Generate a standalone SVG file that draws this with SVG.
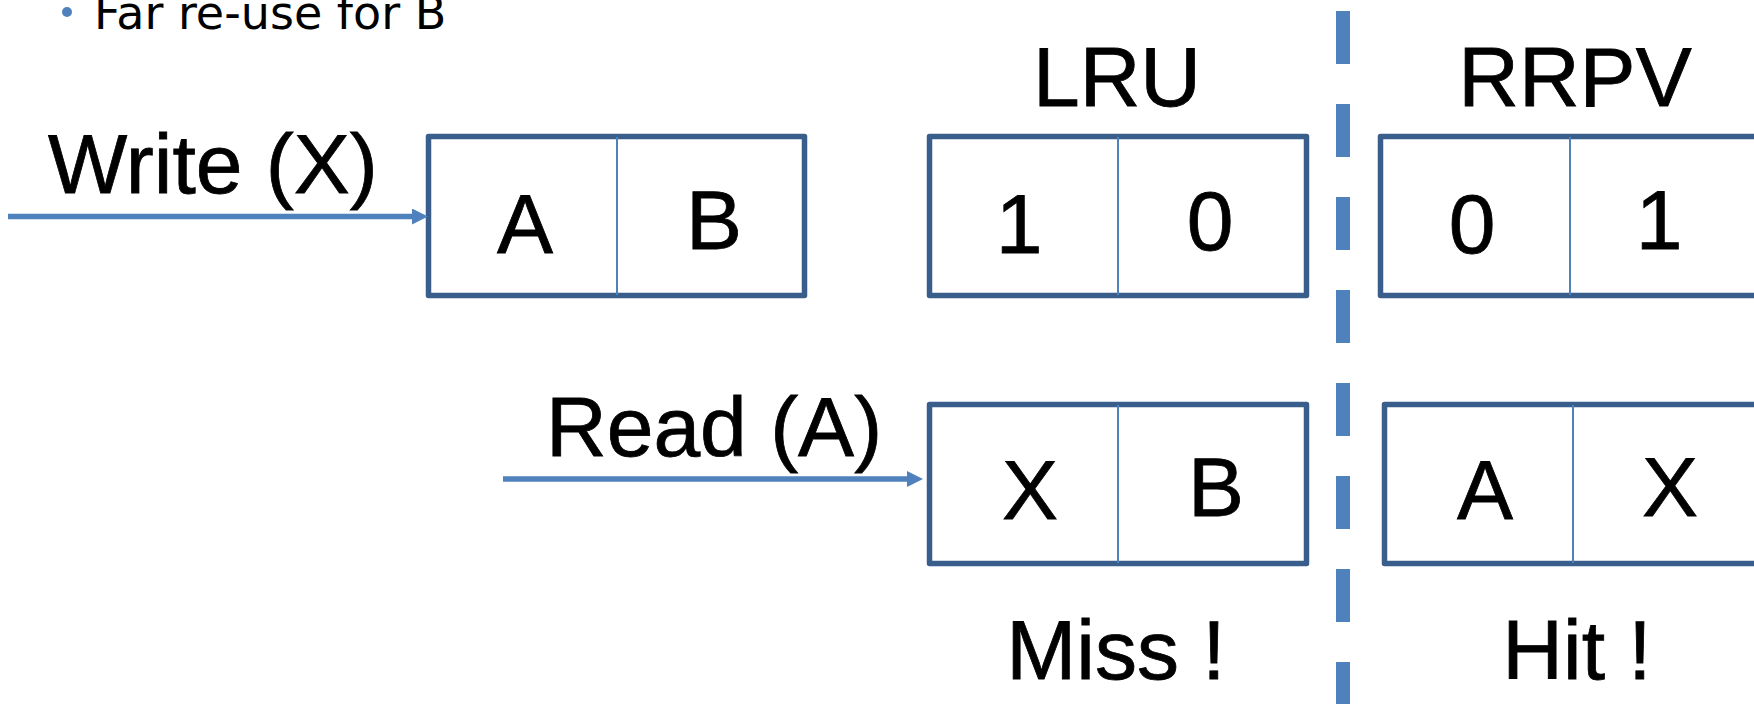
<svg xmlns="http://www.w3.org/2000/svg" width="1754" height="704" viewBox="0 0 1754 704">
  <style>
    .bg { fill: #ffffff; }
    .cell { fill: #ffffff; stroke: #3A5E8B; stroke-width: 5.5; stroke-linejoin: round; }
    .split { stroke: #4F81BD; stroke-width: 2; }
    .big { font-family: "Liberation Sans", Arial, sans-serif; font-size: 84px; fill: #000000; stroke: #000000; stroke-width: 0.8; text-anchor: middle; }
    .lbl { font-family: "Liberation Sans", Arial, sans-serif; font-size: 84px; fill: #000000; stroke: #000000; stroke-width: 0.8; }
    .bullet { font-family: "DejaVu Sans", sans-serif; font-size: 46px; fill: #000000; }
    .flow { stroke: #4F81BD; stroke-width: 5.5; fill: none; }
    .sep { stroke: #4F81BD; stroke-width: 14; stroke-dasharray: 53 40; }
  </style>
  <defs>
    <marker id="head" markerUnits="userSpaceOnUse" viewBox="0 0 16 16" refX="1" refY="8" markerWidth="16" markerHeight="16" orient="auto">
      <path d="M0,0 L16,8 L0,16 Z" fill="#4F81BD"/>
    </marker>
  </defs>

  <rect class="bg" x="0" y="0" width="1754" height="704"/>

  <!-- bullet line at the top -->
  <g id="note">
    <circle cx="67" cy="12" r="5" fill="#4F81BD"/>
    <text class="bullet" x="94" y="29">Far re-use for B</text>
  </g>

  <!-- column titles -->
  <g id="title-lru"><text class="big" x="1117" y="106">LRU</text></g>
  <g id="title-rrpv"><text class="big" x="1575" y="106">RRPV</text></g>

  <!-- operation labels -->
  <g id="op-write"><text class="lbl" x="48" y="193">Write (X)</text></g>
  <g id="op-read"><text class="lbl" x="546" y="456">Read (A)</text></g>

  <!-- cache set before the read -->
  <g id="set-initial">
    <rect class="cell" x="428.5" y="136.5" width="376" height="159"/>
    <line class="split" x1="617" y1="137" x2="617" y2="295"/>
    <text class="big" x="525" y="253">A</text>
    <text class="big" x="714" y="249">B</text>
  </g>

  <!-- LRU ages -->
  <g id="lru-ages">
    <rect class="cell" x="929.5" y="136.5" width="377" height="159"/>
    <line class="split" x1="1118" y1="137" x2="1118" y2="295"/>
    <text class="big" x="1019" y="253">1</text>
    <text class="big" x="1210" y="250">0</text>
  </g>

  <!-- RRPV values -->
  <g id="rrpv-values">
    <rect class="cell" x="1380.5" y="136.5" width="377" height="159"/>
    <line class="split" x1="1570" y1="137" x2="1570" y2="295"/>
    <text class="big" x="1472" y="253">0</text>
    <text class="big" x="1659" y="249">1</text>
  </g>

  <!-- LRU set after the write -->
  <g id="lru-result">
    <rect class="cell" x="929.5" y="404.5" width="377" height="159"/>
    <line class="split" x1="1118" y1="405" x2="1118" y2="563"/>
    <text class="big" x="1030" y="519">X</text>
    <text class="big" x="1216" y="516">B</text>
    <text class="big" x="1116" y="679">Miss !</text>
  </g>

  <!-- RRPV set after the write -->
  <g id="rrpv-result">
    <rect class="cell" x="1384.5" y="404.5" width="377" height="159"/>
    <line class="split" x1="1573" y1="405" x2="1573" y2="563"/>
    <text class="big" x="1485" y="519">A</text>
    <text class="big" x="1670" y="516">X</text>
    <text class="big" x="1577" y="679">Hit !</text>
  </g>

  <!-- connectors -->
  <g id="connectors">
    <line class="flow" x1="8" y1="216.5" x2="413" y2="216.5" marker-end="url(#head)"/>
    <line class="flow" x1="503" y1="479" x2="908" y2="479" marker-end="url(#head)"/>
    <line class="sep" x1="1343" y1="11" x2="1343" y2="704"/>
  </g>
</svg>
